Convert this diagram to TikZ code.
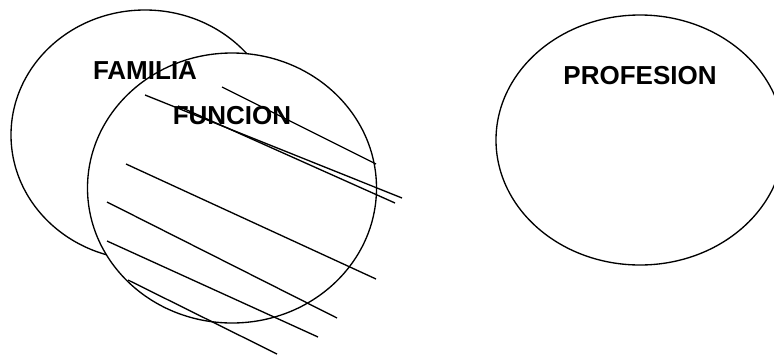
\documentclass[tikz,border=0pt]{standalone}
\usepackage{fontspec}
\setmainfont{Liberation Sans}
\usetikzlibrary{positioning}

\begin{document}
\begin{tikzpicture}[
        x=0.75pt,
        y=-0.75pt,
        setoutline/.style={
            draw=black,
            fill=white,
            line width=1pt
        },
        hatchline/.style={
            draw=black,
            line width=1pt
        },
        setlabel/.style={
            inner sep=0pt,
            font=\fontsize{19.5}{23}\selectfont\bfseries
        }
    ]

        \useasboundingbox
            (0,0) rectangle (774,354);

        % Familia
        \draw[setoutline]
            (145,135) ellipse [x radius=134, y radius=125];

        % Funcion (ligger over familia)
        \draw[setoutline]
            (232,188) ellipse [x radius=144.5, y radius=135];

        % Profesion
        \draw[setoutline]
            (640,140) ellipse [x radius=144, y radius=125];

        % Skraveringer
        \draw[hatchline]
            (222,87) -- (376,164);
        \draw[hatchline]
            (145,95) -- (402,198);
        \draw[hatchline]
            (178,106) -- (395,203);
        \draw[hatchline]
            (126,164) -- (376,279);
        \draw[hatchline]
            (107,202) -- (337,318);
        \draw[hatchline]
            (107,241) -- (318,337);
        \draw[hatchline]
            (128,280) -- (277,354);

        % Betegnelser
        \node[setlabel] (familia) at (145,71)
            {FAMILIA};

        \node[setlabel] (funcion) at (232,116)
            {FUNCION};

        \node[setlabel] (profesion) at (640,76)
            {PROFESION};

    \end{tikzpicture}
\end{document}
